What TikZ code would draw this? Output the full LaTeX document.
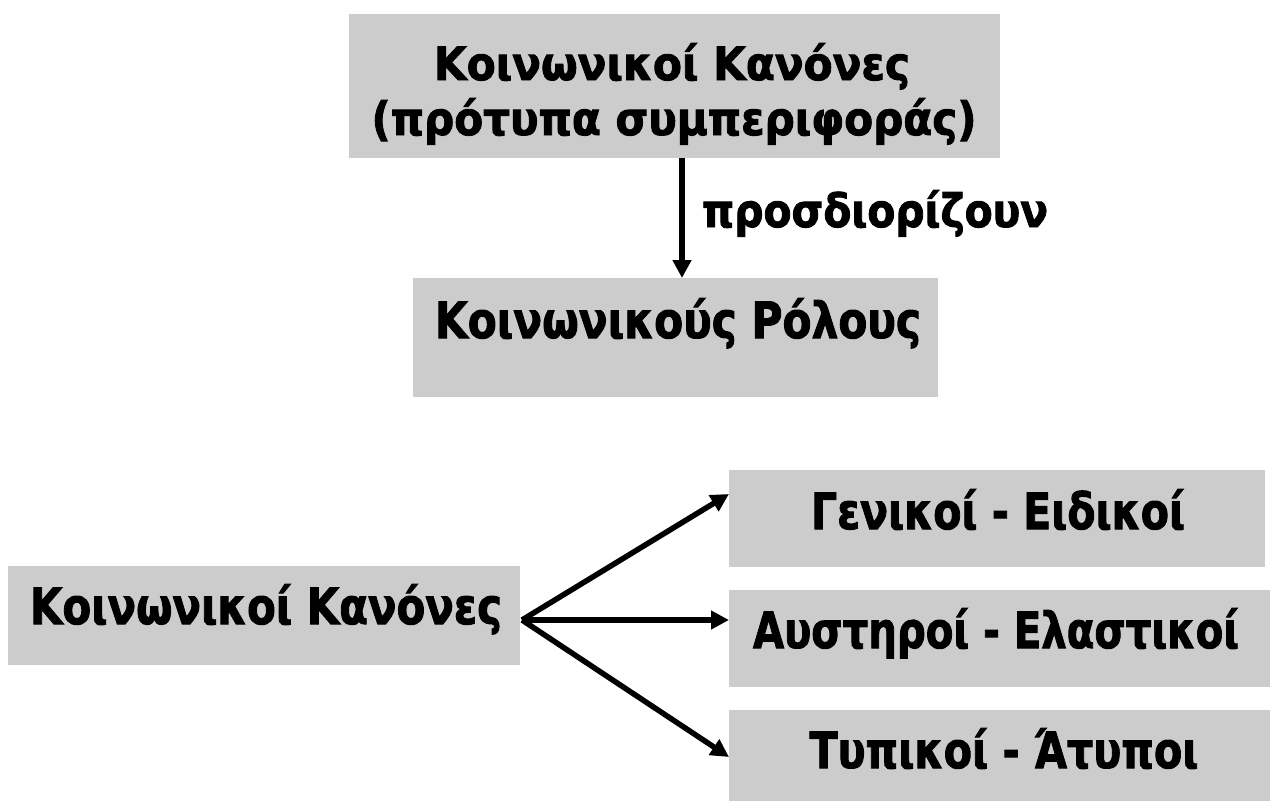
\documentclass[tikz,border=0pt]{standalone}
\usepackage{fontspec}
\setmainfont{DejaVu Sans}[BoldFeatures={FakeBold=2}]
\usetikzlibrary{arrows.meta}
\definecolor{boxgray}{HTML}{CCCCCC}
\newcommand{\fitto}[2]{\resizebox{#1pt}{\height}{#2}}
\begin{document}
\begin{tikzpicture}[x=1pt,y=-1pt,
  box/.style={fill=boxgray, draw=none, anchor=north west, inner sep=0pt, outer sep=0pt},
  txt/.style={anchor=base, inner sep=0pt, font=\bfseries\fontsize{50}{60}\selectfont},
  txtsmall/.style={anchor=base, inner sep=0pt, font=\bfseries\fontsize{46}{54}\selectfont},
  txtlab/.style={anchor=base, inner sep=0pt, font=\bfseries\fontsize{46}{54}\selectfont},
  arr/.style={line width=5.5pt, -{Triangle[length=18pt,width=18pt]}}]
\useasboundingbox (0,0) rectangle (1270,801);

% boxes
\node[box, minimum width=651pt, minimum height=144pt] (norms) at (349,14) {};
\node[box, minimum width=525pt, minimum height=119pt] (roles) at (413,278) {};
\node[box, minimum width=512pt, minimum height=99pt] (left) at (8,566) {};
\node[box, minimum width=536pt, minimum height=97pt] (gen) at (729,470) {};
\node[box, minimum width=541pt, minimum height=97pt] (aus) at (729,590) {};
\node[box, minimum width=541pt, minimum height=91pt] (typ) at (729,710) {};

% texts
\node[txtsmall] (normsA) at (672,80) {\fitto{476}{Κοινωνικοί Κανόνες}};
\node[txtsmall] (normsB) at (674,135) {\fitto{605}{(πρότυπα συμπεριφοράς)}};
\node[txtlab] (lab) at (875,227) {\fitto{346}{προσδιορίζουν}};
\node[txt] (rolesT) at (678,338) {\fitto{486}{Κοινωνικούς Ρόλους}};
\node[txt] (leftT) at (266,624) {\fitto{472}{Κοινωνικοί Κανόνες}};
\node[txt] (genT) at (998,529) {\fitto{374}{Γενικοί - Ειδικοί}};
\node[txt] (ausT) at (996,648) {\fitto{486}{Αυστηροί - Ελαστικοί}};
\node[txt] (typT) at (1004,768) {\fitto{389}{Τυπικοί - Άτυποι}};

% connectors
\coordinate (ax) at (682,0);
\draw[arr] (norms.south -| ax) -- (roles.north -| ax);

\coordinate (fan) at (522,620);
\coordinate (gtip) at (729,494);
\coordinate (atip) at (729,620);
\coordinate (ttip) at (729,757);
\draw[arr] (fan) -- (gtip);
\draw[arr] (fan) -- (atip);
\draw[arr] (fan) -- (ttip);
\end{tikzpicture}
\end{document}
